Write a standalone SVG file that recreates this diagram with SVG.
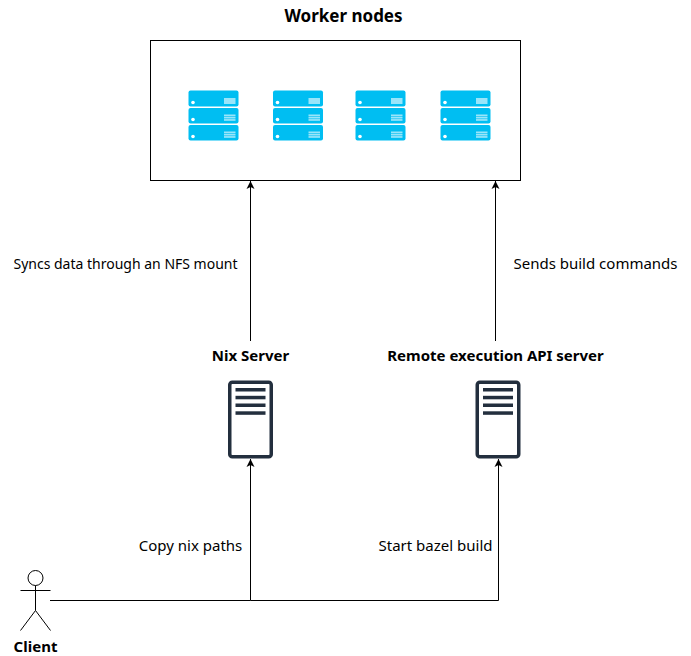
<svg xmlns="http://www.w3.org/2000/svg" width="691" height="656" viewBox="0 0 691 656">
<style>
text{font-family:"Noto Sans","Open Sans",sans-serif;font-size:15px;fill:#000;text-anchor:middle}
.b{font-weight:700}
.t{font-size:17px}
.s{font-size:14px}
.c{fill:none;stroke:#000;stroke-width:1}
.bar{fill:#00bef2}
.lit{fill:#fff;fill-opacity:.6}
.dot{fill:#fff}
.srv{fill:#fff;stroke:#232f3e;stroke-width:3.5}
.ln{fill:#232f3e}
</style>
<defs>
<marker id="a" markerUnits="userSpaceOnUse" markerWidth="9" markerHeight="10" refX="8" refY="5" orient="auto"><path d="M0 1L8 5L0 9L2 5Z" fill="#000"/></marker>
<g id="rack">
<rect class="bar" x="0" y="0" width="50" height="16" rx="2"/>
<rect class="bar" x="0" y="17.500" width="50" height="15.500" rx="2"/>
<rect class="bar" x="0" y="34.500" width="50" height="15.500" rx="2"/>
<circle class="dot" cx="4.500" cy="12" r="1.800"/>
<circle class="dot" cx="4.500" cy="29" r="1.800"/>
<circle class="dot" cx="4.500" cy="46" r="1.800"/>
<rect class="lit" x="35.500" y="7.500" width="11.500" height="6"/>
<rect class="lit" x="35.500" y="24" width="11.500" height="1.700"/><rect class="lit" x="35.500" y="26.300" width="11.500" height="1.700"/><rect class="lit" x="35.500" y="28.600" width="11.500" height="1.700"/>
<rect class="lit" x="35.500" y="41" width="11.500" height="1.700"/><rect class="lit" x="35.500" y="43.300" width="11.500" height="1.700"/><rect class="lit" x="35.500" y="45.600" width="11.500" height="1.700"/>
</g>
<g id="server">
<rect class="srv" x="1.750" y="1.750" width="41.500" height="74.500" rx="2.500"/>
<rect class="ln" x="7.500" y="7.500" width="30" height="3.500"/>
<rect class="ln" x="7.500" y="15.300" width="30" height="3.500"/>
<rect class="ln" x="7.500" y="23" width="30" height="3.500"/>
<rect class="ln" x="7.500" y="30.800" width="30" height="3.500"/>
</g>
</defs>
<g id="worker-nodes">
<rect x="150.500" y="40.500" width="370" height="140" fill="#fff" stroke="#000"/>
<text class="b t" x="343.500" y="21.500">Worker nodes</text>
<use href="#rack" x="188.500" y="90.500"/>
<use href="#rack" x="273" y="90.500"/>
<use href="#rack" x="355.500" y="90.500"/>
<use href="#rack" x="440.500" y="90.500"/>
</g>
<g id="nix-server">
<text class="b" x="250.500" y="361">Nix Server</text>
<use href="#server" x="228" y="380.500"/>
</g>
<g id="remote-execution-api-server">
<text class="b" x="495.500" y="361">Remote execution API server</text>
<use href="#server" x="475.500" y="380.500"/>
</g>
<g id="client">
<circle cx="35.500" cy="578" r="7.500" fill="#fff" stroke="#000"/>
<path class="c" d="M35.500 585.500V610.500M20.500 590.500H50.500M35.500 610.500L20.500 630.500M35.500 610.500L50.500 630.500"/>
<text class="b" x="35.500" y="652">Client</text>
</g>
<g id="connectors">
<path class="c" d="M250.500 341V181" marker-end="url(#a)"/>
<path class="c" d="M495.500 341V181" marker-end="url(#a)"/>
<path class="c" d="M50 600.500H250.500V459" marker-end="url(#a)"/>
<path class="c" d="M250.500 600.500H498.500V459" marker-end="url(#a)"/>
</g>
<g id="labels">
<text class="s" x="125.500" y="269">Syncs data through an NFS mount</text>
<text x="595.500" y="269">Sends build commands</text>
<text x="190.500" y="551">Copy nix paths</text>
<text x="435.500" y="551">Start bazel build</text>
</g>
</svg>
